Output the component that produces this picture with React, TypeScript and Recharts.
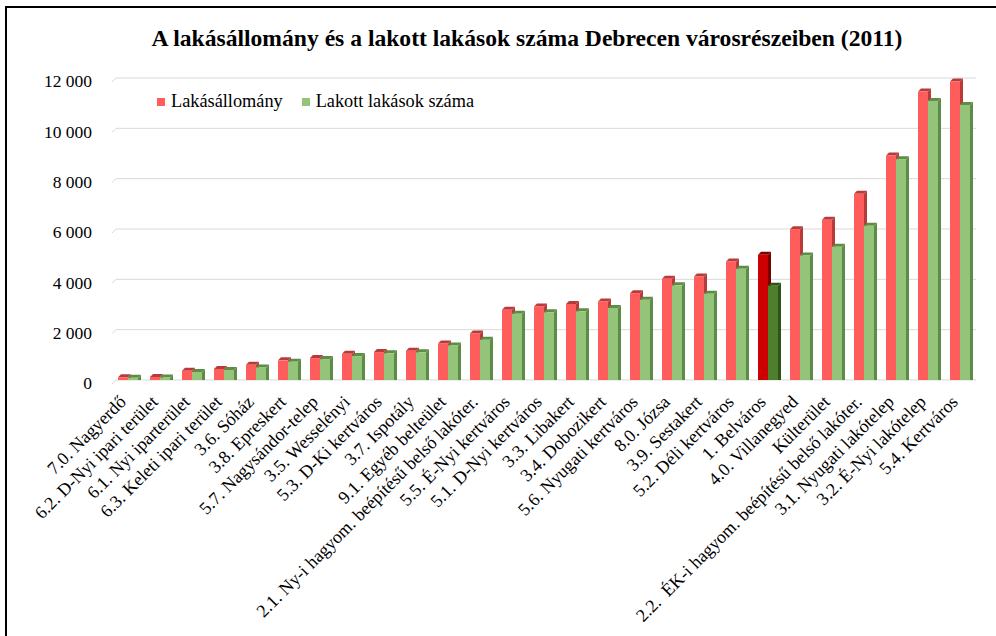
import React from 'react';
import { BarChart, Bar, XAxis, YAxis, CartesianGrid } from 'recharts';

// districts of Debrecen, sorted by housing stock
const districts = [
  '7.0. Nagyerdő',
  '6.2. D-Nyi ipari terület',
  '6.1. Nyi iparterület',
  '6.3. Keleti ipari terület',
  '3.6. Sóház',
  '3.8. Epreskert',
  '5.7. Nagysándor-telep',
  '3.5. Wesselényi',
  '5.3. D-Ki kertváros',
  '3.7. Ispotály',
  '9.1. Egyéb belteület',
  '2.1. Ny-i hagyom. beépítésű belső lakóter.',
  '5.5. É-Nyi kertváros',
  '5.1. D-Nyi kertváros',
  '3.3. Libakert',
  '3.4. Dobozikert',
  '5.6. Nyugati kertváros',
  '8.0. Józsa',
  '3.9. Sestakert',
  '5.2. Déli kertváros',
  '1. Belváros',
  '4.0. Villanegyed',
  'Külterület',
  '2.2.  ÉK-i hagyom. beépítésű belső lakóter.',
  '3.1. Nyugati lakótelep',
  '3.2. É-Nyi lakótelep',
  '5.4. Kertváros',
];

const lakasallomany = [
  110, 120, 370, 440, 610, 780, 870, 1045, 1110, 1165, 1455, 1850, 2790, 2925,
  3020, 3120, 3450, 4020, 4115, 4710, 4975, 5995, 6365, 7400, 8920, 11460, 11860,
];

const lakottLakasok = [
  90, 100, 320, 400, 500, 730, 830, 950, 1060, 1100, 1375, 1600, 2630, 2690,
  2730, 2860, 3190, 3760, 3430, 4420, 3745, 4950, 5295, 6130, 8775, 11090, 10930,
];

const yTicks = [0, 2000, 4000, 6000, 8000, 10000, 12000];
const highlighted = '1. Belváros';

const data = districts.map((name, i) => ({
  name,
  stock: lakasallomany[i],
  occupied: lakottLakasok[i],
}));

const FONT = '"Liberation Serif", "Times New Roman", serif';

const fmt = (v: number) => (v >= 1000 ? `${Math.floor(v / 1000)} ${String(v % 1000).padStart(3, '0')}` : String(v));

// bar with a little 3D side and top
function makeBar3D(color: string, side: string, hiColor: string, hiSide: string) {
  return (props: any) => {
    const { x, y, width, height, payload } = props;
    if (height == null || height <= 0) return null;
    const hi = payload && payload.name === highlighted;
    const front = hi ? hiColor : color;
    const dark = hi ? hiSide : side;
    const d = 3;
    return (
      <g>
        <polygon
          points={`${x + width},${y} ${x + width + d},${y - d} ${x + width + d},${y + height} ${x + width},${y + height}`}
          fill={dark}
        />
        <polygon
          points={`${x},${y} ${x + d},${y - d} ${x + width + d},${y - d} ${x + width},${y}`}
          fill={dark}
        />
        <rect x={x} y={y} width={width} height={height} fill={front} />
      </g>
    );
  };
}

const StockBar = makeBar3D('#ff5c5c', '#b73b3b', '#cc0000', '#7a0000');
const OccupiedBar = makeBar3D('#93c47a', '#5c8c45', '#4e7f2d', '#2e5418');

// gridline with a short slanted "floor" piece at its left end
function GridLine(p: any) {
  const { x1, y1, x2, y2 } = p;
  return (
    <g key={`g-${y1}`}>
      <line x1={x1} y1={y1 + 4} x2={x1 + 4} y2={y1} stroke="#d9d9d9" />
      <line x1={x1 + 4} y1={y1} x2={x2} y2={y2} stroke="#d9d9d9" />
    </g>
  );
}

function XTick(props: any) {
  const { x, y, payload } = props;
  return (
    <g transform={`translate(${x - 1},${y + 15})`}>
      <text
        x={0}
        y={0}
        textAnchor="end"
        transform="rotate(-45)"
        fontSize={18}
        fontFamily={FONT}
        style={{ fontFamily: FONT, whiteSpace: 'pre' }}
        fill="#000"
      >
        {payload.value}
      </text>
    </g>
  );
}

function YTick(props: any) {
  const { x, y, payload } = props;
  return (
    <text
      x={x}
      y={y + 3}
      dy="0.355em"
      textAnchor="end"
      fontSize={17.5}
      fontFamily={FONT}
      style={{ fontFamily: FONT }}
      fill="#000"
    >
      {fmt(payload.value)}
    </text>
  );
}

const legendItems = [
  { label: 'Lakásállomány', color: '#ff5c5c' },
  { label: 'Lakott lakások száma', color: '#93c47a' },
];

export default function App() {
  return (
    <div style={{ position: 'absolute', left: 0, top: 0, width: 996, height: 636, background: '#fff', overflow: 'hidden' }}>
      <div
        style={{
          position: 'absolute',
          left: 5,
          top: 6,
          width: 1000,
          height: 700,
          borderLeft: '2px solid #000',
          borderTop: '2px solid #000',
        }}
      />
      <div
        style={{
          position: 'absolute',
          top: 25,
          left: 0,
          width: 1054,
          textAlign: 'center',
          fontFamily: FONT,
          fontWeight: 'bold',
          fontSize: 23.6,
          color: '#000',
        }}
      >
        A lakásállomány és a lakott lakások száma Debrecen városrészeiben (2011)
      </div>
      <BarChart
        width={996}
        height={636}
        data={data}
        margin={{ top: 78, right: 20, bottom: 24, left: 32 }}
        barGap={0}
        barSize={10}
      >
        <CartesianGrid vertical={false} stroke="#d9d9d9" horizontal={GridLine} />
        <XAxis
          dataKey="name"
          interval={0}
          height={232}
          axisLine={false}
          tickLine={false}
          tick={<XTick />}
        />
        <YAxis
          width={80}
          domain={[0, 12000]}
          ticks={yTicks}
          axisLine={false}
          tickLine={false}
          tickSize={0}
          tickMargin={20}
          tick={<YTick />}
        />
        <Bar dataKey="stock" name="Lakásállomány" fill="#ff5c5c" isAnimationActive={false} shape={StockBar} />
        <Bar dataKey="occupied" name="Lakott lakások száma" fill="#93c47a" isAnimationActive={false} shape={OccupiedBar} />
      </BarChart>
      <div
        style={{
          position: 'absolute',
          top: 91,
          left: 157,
          display: 'flex',
          fontFamily: FONT,
          fontSize: 18.3,
          color: '#000',
        }}
      >
        {legendItems.map((it) => (
          <div key={it.label} style={{ display: 'flex', alignItems: 'center', marginRight: 19 }}>
            <span style={{ width: 8, height: 8, background: it.color, display: 'inline-block', marginRight: 6 }} />
            <span>{it.label}</span>
          </div>
        ))}
      </div>
    </div>
  );
}
